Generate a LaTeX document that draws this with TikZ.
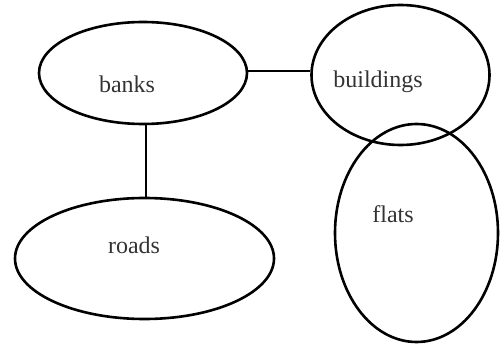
\documentclass[tikz,border=0pt]{standalone}
\usepackage{fontspec}
\setmainfont{Liberation Serif}
\usetikzlibrary{shapes.geometric}
\begin{document}
\begin{tikzpicture}[x=1pt,y=1pt,
  blob/.style={draw, ellipse, line width=2.6pt, inner sep=0pt},
  lbl/.style={font=\fontsize{24}{28}\selectfont, inner sep=0pt, text=black!80},
  link/.style={line width=2.6pt}]
\useasboundingbox (0,0) rectangle (500,343);
\node[blob, minimum width=208, minimum height=102] (banks) at (143,270) {};
\node[blob, minimum width=178, minimum height=140] (buildings) at (400.5,268) {};
\node[blob, minimum width=163, minimum height=218] (flats) at (416.5,110) {};
\node[blob, minimum width=259, minimum height=121] (roads) at (144.5,84.5) {};
\node[lbl] (tbanks) at (127,259) {banks};
\node[lbl] (tbuildings) at (378,261) {buildings};
\node[lbl] (troads) at (134,98) {roads};
\node[lbl] (tflats) at (393,129) {flats};
\draw[link] ([yshift=2pt]banks.east) -- ([yshift=2pt]banks.east -| buildings.west);
\draw[link] ([xshift=3pt]banks.south) -- ([xshift=3pt]banks.south |- roads.north);
\end{tikzpicture}
\end{document}
